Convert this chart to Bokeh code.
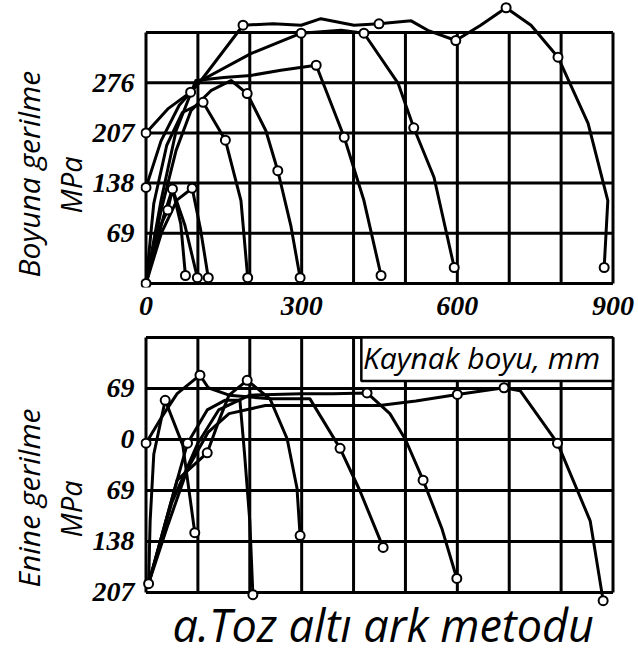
from bokeh.plotting import figure
from bokeh.layouts import column
from bokeh.models import FixedTicker, Title, Label, Range1d
from bokeh.embed import file_html
from bokeh.resources import INLINE

# ---------------- data ----------------
grid_x = [0, 100, 200, 300, 400, 500, 600, 700, 800, 900]
top_grid_y = [0, 69, 138, 207, 276, 345]
bot_grid_y = [-207, -138, -69, 0, 69, 138]

top_x_ticks = [0, 300, 600, 900]
top_y_ticks = [69, 138, 207, 276]
bot_y_ticks = [-207, -138, -69, 0, 69]
bot_y_tick_labels = ["207", "138", "69", "0", "69"]

# Boyuna gerilme (longitudinal stress) curves, weld length x (mm) vs stress (MPa)
top_900_x = [0, 42, 86, 106, 187, 245, 299, 337, 401, 449, 511, 543, 597, 645, 694, 742, 794, 852, 890, 883]
top_900_y = [207, 240, 263, 279, 355, 357, 355, 364, 355, 357, 361, 348, 334, 355, 379, 355, 311, 220, 114, 22]
top_600_x = [0, 29, 64, 106, 202, 299, 376, 420, 486, 516, 555, 594]
top_600_y = [132, 196, 245, 279, 316, 344, 348, 344, 275, 214, 146, 22]
top_450_x = [0, 29, 58, 96, 150, 202, 260, 328, 382, 420, 453]
top_450_y = [0, 114, 210, 279, 283, 286, 293, 300, 201, 114, 11]
top_300_x = [0, 29, 58, 87, 125, 164, 195, 231, 254, 279, 297]
top_300_y = [0, 100, 183, 238, 265, 279, 261, 210, 155, 80, 8]
top_200_x = [0, 15, 40, 70, 110, 153, 183, 196]
top_200_y = [0, 110, 190, 235, 249, 197, 114, 8]
top_s1_x = [0, 25, 42, 51, 67, 76]
top_s1_y = [0, 75, 101, 130, 82, 11]
top_s2_x = [0, 35, 51, 75, 99]
top_s2_y = [0, 95, 130, 80, 8]
top_s3_x = [0, 30, 60, 89, 105, 120]
top_s3_y = [0, 70, 115, 131, 75, 8]
top_mark_x = [0, 86, 187, 449, 597, 694, 794, 883, 0, 299, 420, 516, 594, 0, 328, 382, 453,
              195, 254, 297, 110, 153, 196, 42, 51, 76, 99, 89, 120]
top_mark_y = [207, 263, 355, 357, 334, 379, 311, 22, 132, 344, 344, 214, 22, 0, 300, 201, 11,
              261, 155, 8, 249, 197, 8, 101, 130, 11, 8, 131, 8]

# Enine gerilme (transverse stress) curves
bot_100_x = [5, 8, 15, 37, 71, 94]
bot_100_y = [-195, -110, -20, 53, -8, -126]
bot_200_x = [5, 50, 80, 118, 152, 181, 190, 200, 206]
bot_200_y = [-195, -80, -5, 40, 53, 53, -20, -110, -210]
bot_300_x = [5, 60, 118, 143, 160, 195, 239, 272, 291, 297]
bot_300_y = [-195, -55, -18, 30, 60, 80, 55, 1, -66, -130]
bot_450_x = [0, 30, 60, 104, 120, 160, 240, 316, 374, 412, 457]
bot_450_y = [-5, 30, 62, 87, 70, 60, 55, 55, -12, -69, -146]
bot_600_x = [5, 50, 100, 140, 200, 300, 360, 426, 470, 500, 534, 570, 599]
bot_600_y = [-195, -85, -5, 40, 60, 62, 62, 63, 35, 0, -55, -120, -188]
bot_900_x = [5, 40, 80, 120, 160, 230, 300, 360, 450, 520, 600, 690, 721, 793, 856, 881]
bot_900_y = [-195, -120, -40, 10, 35, 46, 46, 46, 46, 52, 61, 70, 66, -5, -110, -218]
bot_mark_x = [5, 37, 94, 0, 104, 374, 457, 80, 206, 118, 195, 297, 426, 534, 599, 600, 690, 793, 881]
bot_mark_y = [-195, 53, -126, -5, 87, -12, -146, -5, -210, -18, 80, -130, 63, -55, -188, 61, 70, -5, -218]

caption = "a.Toz altı ark metodu"
x_unit_text = "Kaynak  boyu, mm"

# ---------------- styling helpers ----------------
TICK_FONT = "Liberation Sans Narrow"
TEXT_FONT = "Open Sans"
X0, X1 = -10.6, 924.09


def base_fig(height, y0, y1, mb_top, mb_bottom):
    p = figure(width=638, height=height, x_range=Range1d(X0, X1), y_range=Range1d(y0, y1),
               output_backend="svg", toolbar_location=None,
               min_border_left=140, min_border_right=13,
               min_border_top=mb_top, min_border_bottom=mb_bottom)
    p.outline_line_color = None
    p.grid.visible = False
    p.background_fill_color = "white"
    p.border_fill_color = "white"
    for ax in (p.xaxis, p.yaxis):
        ax.axis_line_color = None
        ax.major_tick_line_color = None
        ax.minor_tick_line_color = None
        ax.major_label_text_font = TICK_FONT
        ax.major_label_text_font_size = "28px"
        ax.major_label_text_font_style = "bold italic"
        ax.major_label_text_color = "black"
    p.yaxis.major_label_standoff = 0
    return p


def draw_grid(p, ys):
    lo, hi = min(ys), max(ys)
    p.segment(x0=grid_x, y0=[lo] * len(grid_x), x1=grid_x, y1=[hi] * len(grid_x),
              line_color="black", line_width=3)
    p.segment(x0=[grid_x[0]] * len(ys), y0=ys, x1=[grid_x[-1]] * len(ys), y1=ys,
              line_color="black", line_width=3)


def add_titles(p, main, main_off, sub_off):
    p.add_layout(Title(text="MPa", align="left", offset=sub_off, standoff=0,
                       text_font=TEXT_FONT, text_font_size="29px",
                       text_font_style="italic", text_color="black"), "left")
    p.add_layout(Title(text=main, align="left", offset=main_off, standoff=0,
                       text_font=TEXT_FONT, text_font_size="30px",
                       text_font_style="italic", text_color="black"), "left")


# ---------------- top panel ----------------
top = base_fig(325, -5.50, 388.98, 0, 38)
top.xaxis.ticker = FixedTicker(ticks=top_x_ticks)
top.xaxis.major_label_standoff = 3
top.yaxis.ticker = FixedTicker(ticks=top_y_ticks)
draw_grid(top, top_grid_y)
top.multi_line(xs=[top_900_x, top_600_x, top_450_x, top_300_x, top_200_x, top_s1_x, top_s2_x, top_s3_x],
               ys=[top_900_y, top_600_y, top_450_y, top_300_y, top_200_y, top_s1_y, top_s2_y, top_s3_y],
               line_color="black", line_width=3, line_join="round")
top.scatter(top_mark_x, top_mark_y, size=9, marker="circle", fill_color="white",
            line_color="black", line_width=2)
add_titles(top, "Boyuna gerilme", 10, 74)

# ---------------- bottom panel ----------------
bot = base_fig(330, -292.24, 147.47, 5, 0)
bot.xaxis.visible = False
bot.yaxis.ticker = FixedTicker(ticks=bot_y_ticks)
bot.yaxis.major_label_overrides = dict(zip(bot_y_ticks, bot_y_tick_labels))
draw_grid(bot, bot_grid_y)
bot.quad(left=[415], right=[900], bottom=[79], top=[138], fill_color="white",
         line_color="black", line_width=2.5)
bot.add_layout(Label(x=418, y=83, text=x_unit_text, text_font=TEXT_FONT,
                     text_font_size="30px", text_font_style="italic", text_color="black"))
bot.multi_line(xs=[bot_100_x, bot_200_x, bot_300_x, bot_450_x, bot_600_x, bot_900_x],
               ys=[bot_100_y, bot_200_y, bot_300_y, bot_450_y, bot_600_y, bot_900_y],
               line_color="black", line_width=3, line_join="round")
bot.scatter(bot_mark_x, bot_mark_y, size=9, marker="circle", fill_color="white",
            line_color="black", line_width=2)
bot.add_layout(Label(x=457, y=-250, text=caption, text_align="center",
                     text_baseline="alphabetic", text_font=TEXT_FONT,
                     text_font_size="45px", text_font_style="italic", text_color="black"))
add_titles(bot, "Enine gerilme", 68, 118)

layout = column(top, bot, spacing=0)
open("out.html", "w").write(file_html(layout, INLINE))
